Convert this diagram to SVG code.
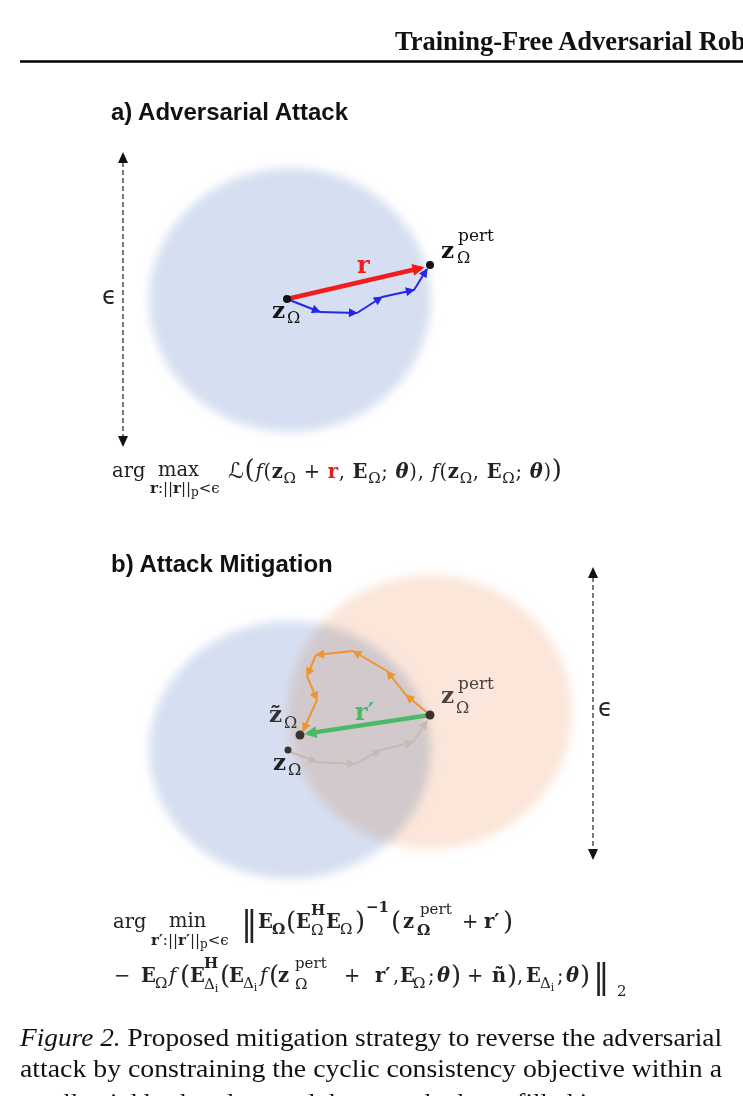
<svg xmlns="http://www.w3.org/2000/svg" width="743" height="1096" viewBox="0 0 743 1096">
<defs>
<filter id="blur" x="-20%" y="-20%" width="140%" height="140%"><feGaussianBlur stdDeviation="5"/></filter>
<marker id="mk-red" viewBox="0 0 10 10" refX="7" refY="5" markerWidth="15" markerHeight="12" markerUnits="userSpaceOnUse" orient="auto"><path d="M0,0 L10,5 L0,10 Z" fill="#f21c1c"/></marker>
<marker id="mk-green" viewBox="0 0 10 10" refX="7" refY="5" markerWidth="15" markerHeight="12" markerUnits="userSpaceOnUse" orient="auto"><path d="M0,0 L10,5 L0,10 Z" fill="#4cb96a"/></marker>
<marker id="mk-blue" viewBox="0 0 10 10" refX="9" refY="5" markerWidth="11" markerHeight="9" markerUnits="userSpaceOnUse" orient="auto"><path d="M0,0 L10,5 L0,10 Z" fill="#2626e6"/></marker>
<marker id="mk-orange" viewBox="0 0 10 10" refX="9" refY="5" markerWidth="11" markerHeight="9" markerUnits="userSpaceOnUse" orient="auto"><path d="M0,0 L10,5 L0,10 Z" fill="#f0952d"/></marker>
<marker id="mk-gray" viewBox="0 0 10 10" refX="9" refY="5" markerWidth="11" markerHeight="9" markerUnits="userSpaceOnUse" orient="auto"><path d="M0,0 L10,5 L0,10 Z" fill="#c9b9b2"/></marker>
</defs>
<style>
.title{font-family:"Liberation Sans",Arial,sans-serif;font-weight:bold;font-size:24px;fill:#111}
.m{font-family:"DejaVu Serif","Liberation Serif",serif;font-size:19.5px;fill:#222}
.bd{font-weight:bold}
.it{font-style:italic}
.bi{font-weight:bold;font-style:italic}
.sb{font-size:15px}
.sc{font-size:15px}
.sp{font-size:12px}
.big{font-size:26px}
.dbar{font-size:33px}
.cal{font-family:"DejaVu Serif","DejaVu Sans",serif;font-style:italic;font-size:22px}
.lz{font-family:"DejaVu Serif",serif;font-weight:bold;font-size:23px;fill:#111}
.ls{font-family:"DejaVu Serif",serif;font-size:16px;fill:#111}
.lp{font-family:"DejaVu Serif",serif;font-size:17px;fill:#111}
.eps{font-family:"DejaVu Sans",sans-serif;font-size:24px;fill:#222}
.dash{stroke:#333;stroke-width:1.3;stroke-dasharray:5 3;fill:none}
.ah{fill:#111}
.cap{font-family:"Liberation Serif","Times New Roman",serif;font-size:25px;fill:#111}
.step-b{stroke:#2626e6;stroke-width:2;fill:none;marker-end:url(#mk-blue)}
.step-o{stroke:#f0952d;stroke-width:2;fill:none;marker-end:url(#mk-orange)}
.step-g{stroke:#c9b9b2;stroke-width:2;fill:none;marker-end:url(#mk-gray)}
</style>
<rect width="743" height="1096" fill="#fff"/>

<!-- page header -->
<g id="header">
<text x="395" y="50" font-family="Liberation Serif,serif" font-weight="bold" font-size="26.5" fill="#111">Training-Free Adversarial Robustness</text>
<line x1="20" y1="61.5" x2="743" y2="61.5" stroke="#000" stroke-width="2.5"/>
</g>

<!-- panel a -->
<g id="panel-a">
<text class="title" x="111" y="120">a) Adversarial Attack</text>
<ellipse id="region-a" cx="290" cy="300" rx="141" ry="132" fill="#d6dff1" filter="url(#blur)"/>
<g id="eps-a">
<line class="dash" x1="123" y1="162" x2="123" y2="437"/>
<polygon class="ah" points="123,152 118,163 128,163"/>
<polygon class="ah" points="123,447 118,436 128,436"/>
<text class="eps" x="102" y="304">ϵ</text>
</g>
</g>

<!-- panel b -->
<g id="panel-b">
<text class="title" x="111" y="572">b) Attack Mitigation</text>
<ellipse id="region-b-clean" cx="290" cy="750" rx="141" ry="129" fill="#d6dff1" filter="url(#blur)"/>
<ellipse id="region-b-pert" cx="430" cy="712" rx="142" ry="137" fill="#fbe6d9" filter="url(#blur)" style="mix-blend-mode:multiply"/>
<g id="eps-b">
<line class="dash" x1="593" y1="577" x2="593" y2="850"/>
<polygon class="ah" points="593,567 588,578 598,578"/>
<polygon class="ah" points="593,860 588,849 598,849"/>
<text class="eps" x="598" y="716">ϵ</text>
</g>
</g>

<!-- connectors -->
<g id="connectors">
<line x1="287" y1="299" x2="421" y2="268" stroke="#f21c1c" stroke-width="4.5" marker-end="url(#mk-red)"/>
<line class="step-b" x1="287" y1="299" x2="320" y2="312"/>
<line class="step-b" x1="320" y1="312" x2="357" y2="313"/>
<line class="step-b" x1="357" y1="313" x2="382" y2="297"/>
<line class="step-b" x1="382" y1="297" x2="414" y2="290"/>
<line class="step-b" x1="414" y1="290" x2="427" y2="269"/>

<line class="step-g" x1="288" y1="751" x2="317" y2="762"/>
<line class="step-g" x1="317" y1="762" x2="355" y2="764"/>
<line class="step-g" x1="355" y1="764" x2="381" y2="750"/>
<line class="step-g" x1="381" y1="750" x2="413" y2="742"/>
<line class="step-g" x1="413" y1="742" x2="427" y2="721"/>

<line class="step-o" x1="430" y1="715" x2="406" y2="695"/>
<line class="step-o" x1="406" y1="695" x2="387" y2="671"/>
<line class="step-o" x1="387" y1="671" x2="353" y2="651"/>
<line class="step-o" x1="353" y1="651" x2="316" y2="655"/>
<line class="step-o" x1="316" y1="655" x2="307" y2="676"/>
<line class="step-o" x1="307" y1="676" x2="317" y2="700"/>
<line class="step-o" x1="317" y1="700" x2="303" y2="731"/>

<line x1="430" y1="715" x2="308" y2="733.4" stroke="#4cb96a" stroke-width="4.5" marker-end="url(#mk-green)"/>
</g>

<!-- nodes panel a -->
<g id="node-a-z">
<circle cx="287" cy="299" r="4" fill="#111"/>
<text class="lz" x="272" y="318">z</text><text class="ls" x="287" y="323">Ω</text>
</g>
<g id="node-a-zpert">
<circle cx="430" cy="265" r="4" fill="#111"/>
<text class="lz" x="441" y="258">z</text><text class="lp" x="458" y="241">pert</text><text class="ls" x="457" y="263">Ω</text>
</g>
<g id="label-r">
<text x="357" y="273" font-family="DejaVu Serif,serif" font-weight="bold" font-size="24" fill="#f21c1c">r</text>
</g>

<!-- nodes panel b -->
<g id="node-b-zpert">
<circle cx="430" cy="715" r="4.5" fill="#3b3330"/>
<text class="lz" x="441" y="703" style="fill:#4a4242">z</text><text class="lp" x="458" y="689" style="fill:#4a4242">pert</text><text class="ls" x="456" y="713" style="fill:#4a4242">Ω</text>
</g>
<g id="node-b-ztilde">
<circle cx="300" cy="735" r="4.5" fill="#3b3330"/>
<text class="lz" x="269" y="722" style="fill:#333">z̃</text><text class="ls" x="284" y="728" style="fill:#333">Ω</text>
</g>
<g id="node-b-z">
<circle cx="288" cy="750" r="3.5" fill="#3b3330"/>
<text class="lz" x="273" y="770" style="fill:#222">z</text><text class="ls" x="288" y="775" style="fill:#222">Ω</text>
</g>
<g id="label-rprime">
<text x="355" y="720" font-family="DejaVu Serif,serif" font-weight="bold" font-size="24" fill="#4cb96a">r′</text>
</g>

<!-- formula a -->
<g id="formula-a">
<text class="m" x="112" y="477">arg</text>
<text class="m" x="158" y="476">max</text>
<text class="m sc" x="150" y="493"><tspan class="bd">r</tspan>:||<tspan class="bd">r</tspan>||<tspan class="sp" dy="3">p</tspan><tspan dy="-3">&lt;ϵ</tspan></text>
<text class="m" x="228" y="478" textLength="334" lengthAdjust="spacing"><tspan class="cal">ℒ</tspan><tspan class="big">(</tspan><tspan class="it">f</tspan>(<tspan class="bd">z</tspan><tspan class="sb" dy="5">Ω</tspan><tspan dy="-5"> + </tspan><tspan class="bd" fill="#e02020">r</tspan>, <tspan class="bd">E</tspan><tspan class="sb" dy="5">Ω</tspan><tspan dy="-5">; </tspan><tspan class="bi">θ</tspan>), <tspan class="it">f</tspan>(<tspan class="bd">z</tspan><tspan class="sb" dy="5">Ω</tspan><tspan dy="-5">, </tspan><tspan class="bd">E</tspan><tspan class="sb" dy="5">Ω</tspan><tspan dy="-5">; </tspan><tspan class="bi">θ</tspan>)<tspan class="big">)</tspan></text>
</g>

<!-- formula b -->
<g id="formula-b">
<text class="m" x="113" y="928">arg</text>
<text class="m" x="169" y="927">min</text>
<text class="m sc" x="151" y="945"><tspan class="bd">r′</tspan>:||<tspan class="bd">r′</tspan>||<tspan class="sp" dy="3">p</tspan><tspan dy="-3">&lt;ϵ</tspan></text>
<text class="m dbar" x="241" y="935">‖</text>
<text class="m bd" x="258" y="928">E</text><text class="m bd sb" x="272" y="934">Ω</text>
<text class="m big" x="286" y="930">(</text>
<text class="m bd" x="296" y="928">E</text><text class="m bd sb" x="311" y="915">H</text><text class="m sb" x="311" y="935">Ω</text>
<text class="m bd" x="326" y="928">E</text><text class="m sb" x="340" y="934">Ω</text>
<text class="m big" x="355" y="930">)</text>
<text class="m bd sb" x="366" y="912">−1</text>
<text class="m big" x="391" y="930">(</text>
<text class="m bd" x="403" y="928">z</text><text class="m sb" x="420" y="914">pert</text><text class="m bd sb" x="417" y="935">Ω</text>
<text class="m" x="462" y="928">+</text>
<text class="m bd" x="484" y="928" fill="#3fae5a">r′</text>
<text class="m big" x="503" y="930">)</text>

<text class="m" x="114" y="982">−</text>
<text class="m bd" x="141" y="982">E</text><text class="m sb" x="155" y="988">Ω</text>
<text class="m it" x="169" y="982">f</text>
<text class="m big" x="180" y="984">(</text>
<text class="m bd" x="190" y="982">E</text><text class="m bd sb" x="204" y="968">H</text><text class="m sb" x="204" y="989">Δ<tspan dy="3" font-size="11">i</tspan></text>
<text class="m big" x="220" y="984">(</text>
<text class="m bd" x="229" y="982">E</text><text class="m sb" x="243" y="988">Δ<tspan dy="3" font-size="11">i</tspan></text>
<text class="m it" x="260" y="982">f</text>
<text class="m big" x="269" y="984">(</text>
<text class="m bd" x="278" y="982">z</text><text class="m sb" x="295" y="968">pert</text><text class="m sb" x="295" y="989">Ω</text>
<text class="m" x="344" y="982">+</text>
<text class="m bd" x="375" y="982" fill="#3fae5a">r′</text>
<text class="m" x="393" y="982">,</text>
<text class="m bd" x="400" y="982">E</text><text class="m sb" x="413" y="988">Ω</text>
<text class="m" x="428" y="982">;</text>
<text class="m bi" x="437" y="982">θ</text>
<text class="m big" x="451" y="984">)</text>
<text class="m" x="467" y="982">+</text>
<text class="m bd" x="492" y="982">ñ</text>
<text class="m big" x="507" y="984">)</text>
<text class="m" x="517" y="982">,</text>
<text class="m bd" x="526" y="982">E</text><text class="m sb" x="540" y="988">Δ<tspan dy="3" font-size="11">i</tspan></text>
<text class="m" x="557" y="982">;</text>
<text class="m bi" x="566" y="982">θ</text>
<text class="m big" x="580" y="984">)</text>
<text class="m dbar" x="593" y="988">‖</text>
<text class="m sb" x="617" y="996">2</text>
</g>

<!-- caption -->
<g id="caption">
<text class="cap" x="20" y="1046" textLength="702" lengthAdjust="spacingAndGlyphs"><tspan font-style="italic">Figure 2.</tspan> Proposed mitigation strategy to reverse the adversarial</text>
<text class="cap" x="20" y="1077" textLength="702" lengthAdjust="spacingAndGlyphs">attack by constraining the cyclic consistency objective within a</text>
<text class="cap" x="20" y="1111" textLength="632" lengthAdjust="spacingAndGlyphs">small neighborhood around the perturbed zerofilled image.</text>
</g>
</svg>
